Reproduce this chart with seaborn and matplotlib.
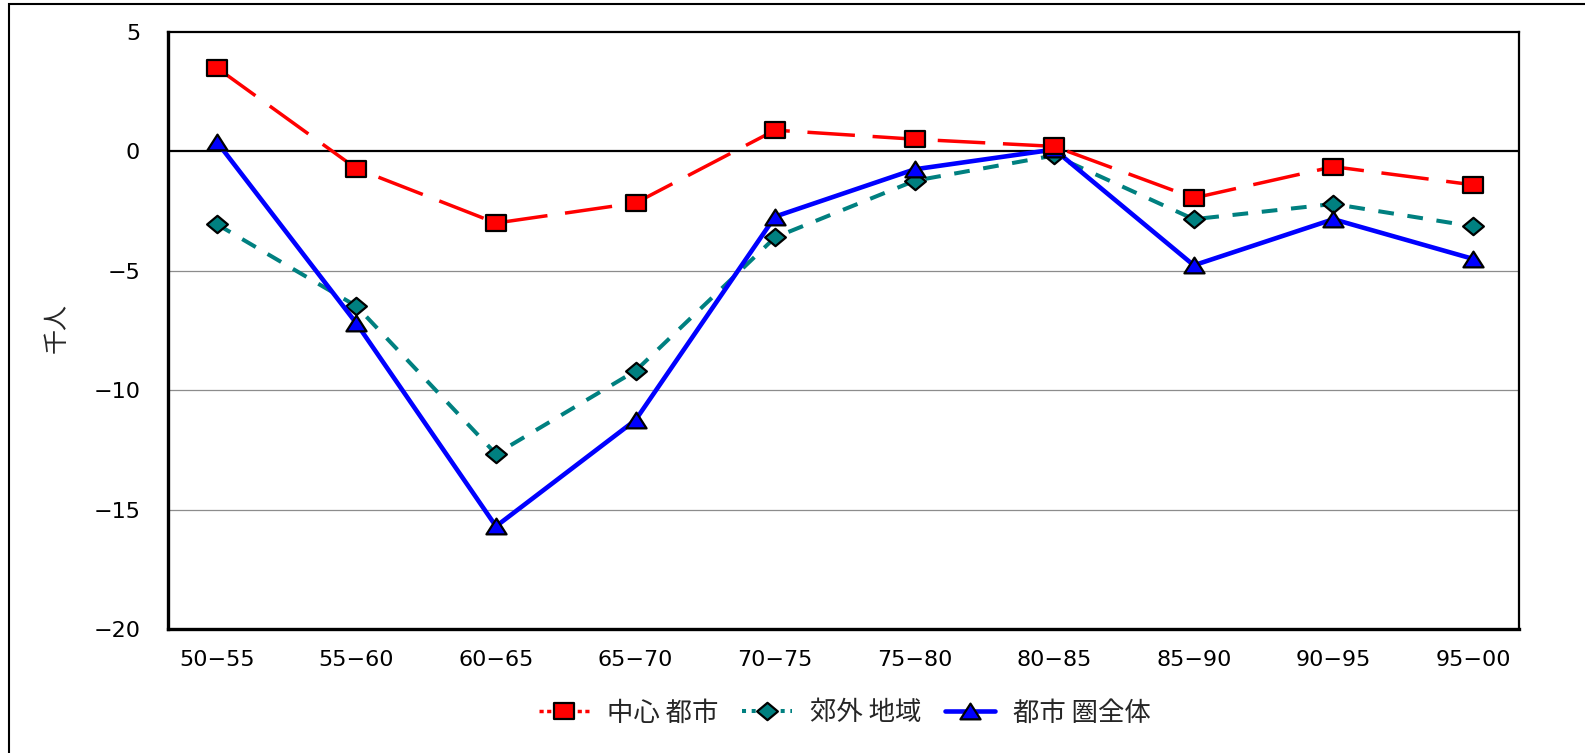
import matplotlib
matplotlib.use("Agg")
import matplotlib.pyplot as plt
import matplotlib.patches as mpatches
from matplotlib.lines import Line2D
from matplotlib.path import Path
import numpy as np
import pandas as pd
import seaborn as sns

# Net migration by five-year period (thousand persons)
periods = ["50−55", "55−60", "60−65", "65−70", "70−75",
           "75−80", "80−85", "85−90", "90−95", "95−00"]
central_city = [3.5, -0.72, -3.0, -2.16, 0.89, 0.51, 0.21, -1.95, -0.64, -1.40]
suburbs = [-3.05, -6.48, -12.67, -9.19, -3.6, -1.23, -0.17, -2.84, -2.2, -3.14]
metro_total = [0.4, -7.2, -15.7, -11.25, -2.73, -0.75, 0.08, -4.77, -2.84, -4.5]

series_names = ["中心 都市", "郊外 地域", "都市 圏全体"]
y_ticks = [5, 0, -5, -10, -15, -20]

sns.set_style("white")
plt.rcParams["font.family"] = ["Noto Sans CJK JP", "DejaVu Sans"]
plt.rcParams["axes.unicode_minus"] = True

# slightly wide marker shapes
square_mk = Path([(-1.28, -1), (1.28, -1), (1.28, 1), (-1.28, 1), (-1.28, -1)],
                 [Path.MOVETO, Path.LINETO, Path.LINETO, Path.LINETO, Path.CLOSEPOLY])
diamond_mk = Path([(-1.2, 0), (0, 1), (1.2, 0), (0, -1), (-1.2, 0)],
                  [Path.MOVETO, Path.LINETO, Path.LINETO, Path.LINETO, Path.CLOSEPOLY])
triangle_mk = Path([(-1.28, -1), (1.28, -1), (0, 1), (-1.28, -1)],
                   [Path.MOVETO, Path.LINETO, Path.LINETO, Path.CLOSEPOLY])

RED, TEAL, BLUE = "#ff0000", "#008080", "#0000ff"
styles = {
    "c": dict(color=RED, lw=2.5, marker=square_mk, markersize=14),
    "s": dict(color=TEAL, lw=2.9, marker=diamond_mk, markersize=15),
    "t": dict(color=BLUE, lw=3.3, marker=triangle_mk, markersize=14.5),
}
edge = dict(markeredgecolor="black", markeredgewidth=1.6)

fig = plt.figure(figsize=(15.85, 7.53), dpi=100)
ax = fig.add_axes([168 / 1585, 1 - 629 / 753, (1519 - 168) / 1585, (629 - 32) / 753])

df = pd.DataFrame({"period": periods, "c": central_city, "s": suburbs, "t": metro_total})

# suburbs
sns.lineplot(data=df, x="period", y="s", ax=ax, sort=False,
             markerfacecolor=TEAL, zorder=4, **styles["s"], **edge)
ax.lines[-1].set_dashes([3.9, 3.4])
# whole metro area
sns.lineplot(data=df, x="period", y="t", ax=ax, sort=False,
             markerfacecolor=BLUE, zorder=5, **styles["t"], **edge)
# central city
sns.lineplot(data=df, x="period", y="c", ax=ax, sort=False,
             markerfacecolor=RED, zorder=6, **styles["c"], **edge)
ax.lines[-1].set_dashes([13.7, 5.1])

ax.set_ylim(-20, 5)
ax.set_xlim(-0.35, 9.33)
ax.set_yticks(y_ticks)
ax.set_xlabel("")
ax.set_ylabel("")

# horizontal guides
for v in [-5, -10, -15]:
    ax.axhline(v, color="#8c8c8c", lw=0.9, zorder=1)
ax.axhline(0, color="black", lw=1.6, zorder=2)

for side in ["top", "right"]:
    ax.spines[side].set_linewidth(1.6)
    ax.spines[side].set_color("black")
for side in ["left", "bottom"]:
    ax.spines[side].set_linewidth(2.4)
    ax.spines[side].set_color("black")

ax.tick_params(axis="y", length=0, pad=20, labelsize=16, colors="black")
ax.tick_params(axis="x", direction="in", length=11, width=1.6, pad=15,
               labelsize=16, colors="black", top=False)
for lab in ax.get_xticklabels() + ax.get_yticklabels():
    lab.set_fontfamily("DejaVu Sans")

fig.text(57 / 1585, 1 - 328 / 753, "千人", rotation=90, fontsize=18,
         ha="center", va="center")

handles = [
    Line2D([], [], dashes=[1.2, 1.0], markerfacecolor=RED, **styles["c"], **edge),
    Line2D([], [], dashes=[1.0, 1.4], markerfacecolor=TEAL, **styles["s"], **edge),
    Line2D([], [], markerfacecolor=BLUE, **styles["t"], **edge),
]
fig.legend(handles, series_names, loc="center", bbox_to_anchor=(845 / 1585, 1 - 713 / 753),
           ncol=3, frameon=False, fontsize=19, handlelength=1.9, handletextpad=0.68,
           columnspacing=0.9)

# outer chart frame
fig.patches.append(mpatches.Rectangle((9 / 1585, -0.5), 2, 1.5 - 4 / 753,
                                      transform=fig.transFigure, fill=False,
                                      edgecolor="black", lw=1.5))

fig.savefig("out.png", dpi=100)
